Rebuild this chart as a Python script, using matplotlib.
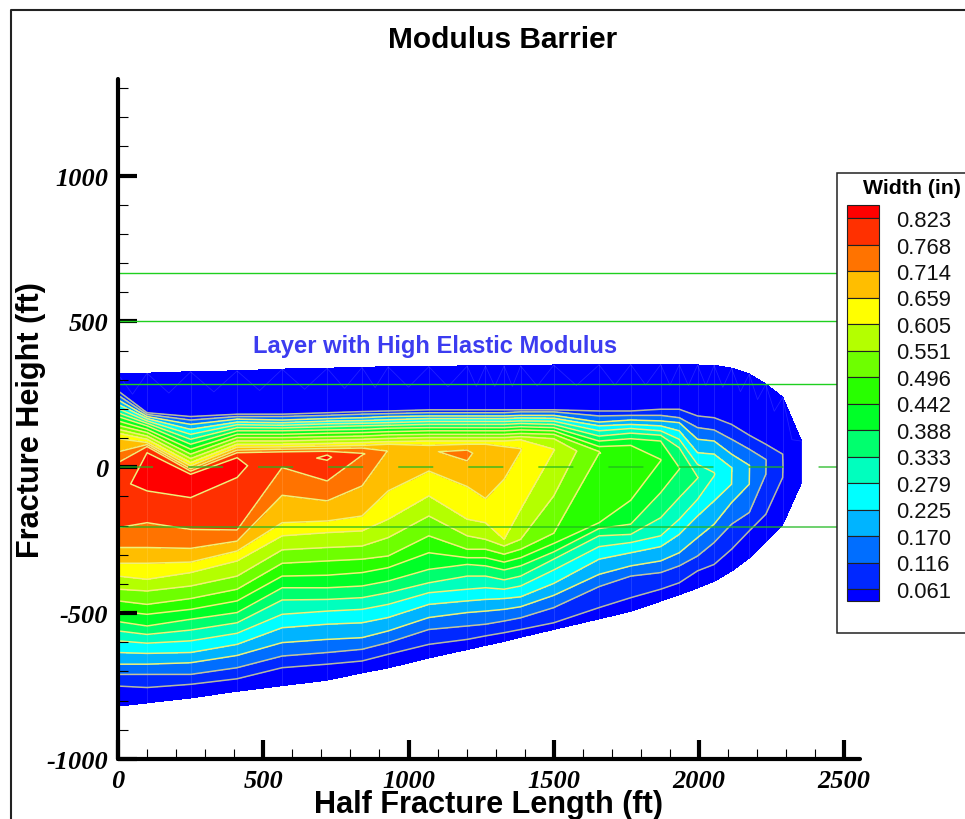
import numpy as np
import matplotlib
matplotlib.use("Agg")
import matplotlib.pyplot as plt
from matplotlib.patches import Rectangle
from matplotlib.ticker import FixedLocator

W, H = 965, 820
levels = [0.061, 0.116, 0.170, 0.225, 0.279, 0.333, 0.388, 0.442, 0.496, 0.551, 0.605, 0.659, 0.714, 0.768, 0.823]
level_labels = ["0.823", "0.768", "0.714", "0.659", "0.605", "0.551", "0.496", "0.442", "0.388", "0.333", "0.279", "0.225", "0.170", "0.116", "0.061"]
band_colors = ["#0000ff", "#0028ff", "#006eff", "#00b4ff", "#00ffff", "#00ffbe", "#00ff6e", "#00ff28",
               "#28ff00", "#6eff00", "#b4ff00", "#ffff00", "#ffbe00", "#ff7300", "#ff3000", "#ff0000"]

half_length = [0, 100, 250, 410, 565, 720, 840, 930, 1070, 1202, 1265, 1329, 1386, 1500, 1656, 1765, 1868, 1932, 1995, 2052, 2112, 2173, 2230, 2288, 2352]
top_edge = [319, 322, 327, 330, 336, 339, 342, 344, 345, 347, 347, 347, 347, 350, 351, 352, 352, 351, 350, 349, 339, 319, 285, 239, 90]
bottom_edge = [-818, -807, -790, -767, -748, -729, -704, -687, -653, -624, -610, -596, -582, -555, -519, -493, -458, -436, -413, -390, -355, -310, -253, -195, -53]
peak_height = [-87, -18, -64, -1, 27, 33, 45, 56, 56, 45, 56, 56, 59, 59, 51, -18, 25, -3, -35, -24, -3, 5, 24, 5, 16]
peak_width = [0.81, 0.84, 0.85, 0.83, 0.80, 0.83, 0.775, 0.712, 0.712, 0.72, 0.70, 0.68, 0.66, 0.607, 0.497, 0.475, 0.443, 0.389, 0.335, 0.281, 0.226, 0.171, 0.117, 0.0615, 0.03]
edge_width = 0.03

# Height at which each width level is crossed above the peak (lowest level first)
upper_crossings = [
    [262, 247, 231, 216, 201, 187, 174, 159, 144, 130, 117, 98, 53, 16],
    [187, 181, 174, 167, 159, 151, 142, 130, 119, 107, 96, 85, 78, 71, 50],
    [174, 162, 147, 130, 113, 96, 79, 62, 45, 30, 16, 5, -5, -13, -24],
    [182, 174, 165, 155, 146, 136, 125, 113, 102, 90, 79, 69, 59, 50, 33],
    [182, 174, 162, 153, 144, 135, 125, 113, 102, 90, 79, 70, 62, 53],
    [187, 178, 167, 158, 149, 139, 128, 117, 105, 94, 82, 73, 64, 55, 42],
    [191, 182, 170, 160, 151, 142, 130, 119, 107, 96, 85, 75, 66, 48],
    [193, 184, 174, 163, 153, 144, 134, 122, 111, 99, 88, 79],
    [197, 187, 176, 167, 157, 147, 136, 125, 113, 102, 90, 75],
    [197, 187, 176, 167, 157, 147, 136, 125, 113, 102, 90, 79, 59],
    [197, 187, 176, 167, 157, 147, 136, 125, 113, 102, 90, 79],
    [197, 187, 176, 167, 157, 147, 136, 125, 113, 102, 90, 71],
    [197, 190, 178, 169, 159, 150, 139, 128, 116, 105, 94, 64],
    [197, 190, 178, 168, 158, 147, 136, 125, 113, 98, 62],
    [193, 176, 155, 142, 125, 107, 90, 71, 54],
    [193, 178, 162, 147, 133, 117, 98, 75],
    [199, 178, 159, 142, 125, 110, 90, 27],
    [199, 170, 153, 125, 96, 67, -1],
    [176, 136, 96, 50, 10, -33],
    [170, 128, 90, 45, -18],
    [147, 96, 45, -1],
    [110, 62, 7],
    [79, 27],
    [45],
    [],
]
# Height at which each width level is crossed below the peak (highest reached level first)
lower_crossings = [
    [-207, -275, -329, -373, -418, -458, -493, -529, -561, -595, -635, -675, -710, -750],
    [-81, -190, -275, -329, -384, -424, -470, -504, -544, -573, -603, -638, -675, -710, -755],
    [-104, -213, -278, -325, -361, -407, -450, -487, -521, -558, -595, -635, -670, -710, -744],
    [-35, -215, -253, -287, -321, -373, -418, -458, -498, -533, -569, -607, -645, -687, -725],
    [-1, -96, -190, -235, -283, -329, -373, -413, -455, -504, -550, -601, -647, -687],
    [24, -47, -115, -184, -224, -275, -321, -370, -413, -453, -493, -538, -590, -635, -675],
    [41, -64, -167, -218, -270, -315, -361, -407, -447, -487, -533, -584, -624, -664],
    [-81, -178, -241, -304, -344, -390, -430, -470, -515, -561, -601, -641],
    [-13, -98, -167, -235, -293, -350, -396, -430, -470, -515, -556, -607],
    [22, -66, -178, -235, -281, -310, -333, -373, -418, -458, -498, -544, -590],
    [-107, -190, -247, -281, -310, -338, -373, -413, -453, -493, -538, -578],
    [-41, -247, -270, -298, -325, -352, -386, -418, -450, -487, -527, -567],
    [55, -144, -247, -281, -310, -338, -373, -407, -444, -478, -516, -556],
    [56, -98, -226, -261, -290, -315, -352, -398, -439, -481, -533],
    [48, -190, -210, -235, -272, -315, -367, -409, -481],
    [-113, -195, -230, -258, -293, -338, -373, -447],
    [22, -87, -173, -235, -272, -321, -361, -418],
    [-7, -104, -178, -230, -293, -338, -396],
    [-38, -110, -167, -241, -304, -355],
    [-30, -115, -195, -258, -333],
    [-58, -121, -195, -281],
    [-58, -155, -218],
    [-24, -161],
    [-35],
    [],
]

solid_layer_lines = [665, 500, 285]
soft_layer_line = -205
dashed_layer_line = 0

# Curvilinear mesh: every row of a column follows one width level
n_lev = len(levels)
X, Y, Z = [], [], []
for i, x in enumerate(half_length):
    up, low = upper_crossings[i], lower_crossings[i]
    p_y, p_w = peak_height[i], peak_width[i]
    ys = [top_edge[i]] + up + [p_y] * (n_lev - len(up)) + [p_y] + [p_y] * (n_lev - len(low)) + low + [bottom_edge[i]]
    zs = [edge_width] + levels[:len(up)] + [p_w] * (n_lev - len(up)) + [p_w] + [p_w] * (n_lev - len(low)) + levels[:len(low)][::-1] + [edge_width]
    X.append([x] * len(ys)); Y.append(ys); Z.append(zs)
X, Y, Z = np.array(X, float).T, np.array(Y, float).T, np.array(Z, float).T

plt.rcParams["font.family"] = "Liberation Sans"
plt.rcParams["axes.unicode_minus"] = False
fig = plt.figure(figsize=(W / 100, H / 100), dpi=100, facecolor="white")
L, R, T, B = 118, 860, 80, 760
ax = fig.add_axes([L / W, 1 - B / H, (R - L) / W, (B - T) / H])
ax.set_xlim(0, (R - L) / 0.2905)
ax.set_ylim(-1000, 1000 + (176.5 - T) / 0.2915)

cf = ax.contourf(X, Y, Z, levels=[0.0] + levels + [1.0], colors=band_colors, zorder=1)
cf.set_edgecolor("face")
cf.set_linewidth(0.3)

# Faint element mesh of the source plot
for i, x in enumerate(half_length):
    ax.plot([x, x], [bottom_edge[i], top_edge[i]], color="white", alpha=0.13, lw=0.6, zorder=1.5)
for i in range(len(half_length) - 1):
    mid = 0.5 * (half_length[i] + half_length[i + 1])
    ys = [top_edge[i], 0.5 * (top_edge[i] + top_edge[i + 1]) - 70, top_edge[i + 1]]
    ax.plot([half_length[i], mid, half_length[i + 1]], ys, color="white", alpha=0.13, lw=0.6, zorder=1.5)

line_cols = ["#b8b8a0", "#c4c49c"] + ["#f0f078"] * (n_lev - 2)
ax.contour(X, Y, Z, levels=levels, colors=line_cols, linewidths=1.1, zorder=2)

for h in solid_layer_lines:
    ax.plot([0, 2520], [h, h], color="#1fd01f", lw=1.0, zorder=3)
ax.plot([0, 2520], [soft_layer_line] * 2, color="#1fb81f", alpha=0.65, lw=1.4, zorder=3)
ax.plot([0, 2520], [dashed_layer_line] * 2, color="#1fb81f", alpha=0.7, lw=1.3,
        ls=(0, (19.4, 19.4)), dash_capstyle="butt", zorder=3)

for s in ("top", "right"):
    ax.spines[s].set_visible(False)
for s in ("left", "bottom"):
    ax.spines[s].set_linewidth(3.0)
    ax.spines[s].set_capstyle("round")
    ax.spines[s].set_zorder(6)

ax.set_xticks([0, 500, 1000, 1500, 2000, 2500])
ax.set_yticks([-1000, -500, 0, 500, 1000])
ax.xaxis.set_minor_locator(FixedLocator(np.arange(100, 2500, 100)))
ax.yaxis.set_minor_locator(FixedLocator(np.arange(-900, 1301, 100)))
ax.tick_params(which="major", direction="in", length=14, width=3.0, pad=7)
ax.tick_params(which="minor", direction="in", length=7.5, width=0.8)
for lab in ax.get_xticklabels() + ax.get_yticklabels():
    lab.set_family("Liberation Serif")
    lab.set_fontstyle("italic")
    lab.set_fontweight("bold")
    lab.set_fontsize(19)
ax.set_axisbelow(False)

ax.set_xlabel("Half Fracture Length (ft)", fontsize=22.1, fontweight="bold", va="center")
ax.xaxis.set_label_coords(488 / W, 1 - 805.5 / H, transform=fig.transFigure)
ax.set_ylabel("Fracture Height (ft)", fontsize=22.1, fontweight="bold", va="center")
ax.yaxis.set_label_coords(31 / W, 1 - 420 / H, transform=fig.transFigure)
fig.text(503 / W, 1 - 40 / H, "Modulus Barrier", fontsize=21.5, fontweight="bold", ha="center", va="center")
fig.text(435 / W, 1 - 347 / H, "Layer with High Elastic Modulus", fontsize=17.1, fontweight="bold",
         color="#3c3cf0", ha="center", va="center", zorder=8)

# Legend and page frame, drawn in pixel space
ov = fig.add_axes([0, 0, 1, 1], zorder=10)
ov.set_xlim(0, W); ov.set_ylim(H, 0); ov.axis("off"); ov.patch.set_alpha(0)
ov.add_patch(Rectangle((836.5, 173.5), 140, 460.5, fc="white", ec="#222222", lw=1.1))
ov.plot([10.5, 10.5, W], [H, 10.5, 10.5], color="#222222", lw=1.5, clip_on=False)
step = (590.0 - 219.0) / (len(level_labels) - 1)
ys_leg = [219.0 + k * step for k in range(len(level_labels))]
edges = [206.0] + ys_leg + [602.0]
for k, c in enumerate(band_colors[::-1]):
    ov.add_patch(Rectangle((847, edges[k]), 32, edges[k + 1] - edges[k], fc=c, ec="#222222", lw=0.8))
for y, s in zip(ys_leg, level_labels):
    ov.text(896, y + 2.5, s, fontsize=15.8, ha="left", va="center", color="#111111")
ov.text(911.5, 189, "Width (in)", fontsize=15.3, fontweight="bold", ha="center", va="center")

fig.savefig("out.png", dpi=100)
